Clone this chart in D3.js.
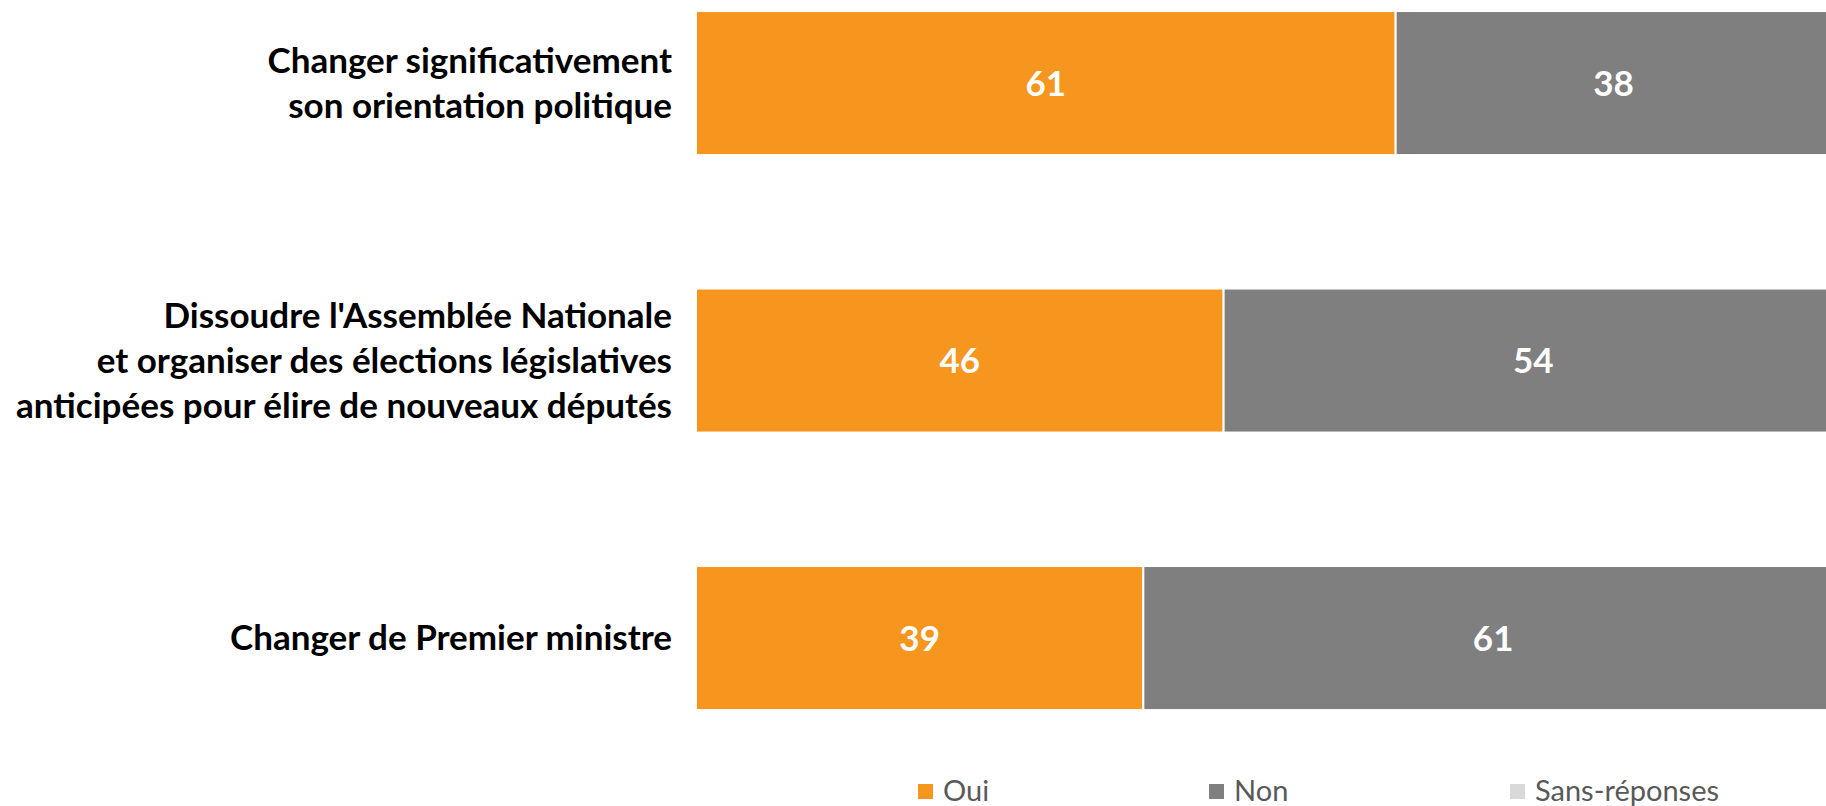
<!DOCTYPE html>
<html>
<head>
<meta charset="utf-8">
<script src="https://cdn.jsdelivr.net/npm/d3@7"></script>
<style>
  html, body { margin: 0; padding: 0; background: #fff; }
  svg { display: block; }
</style>
</head>
<body>
<svg id="chart"></svg>
<script>
// data
const categories = [
    "Changer significativement\nson orientation politique",
    "Dissoudre l'Assemblée Nationale\net organiser des élections législatives\nanticipées pour élire de nouveaux députés",
    "Changer de Premier ministre"
];
const oui = [61, 46, 39];
const non = [38, 54, 61];
const sansReponses = [1, 0, 0];
const seriesNames = ["Oui", "Non", "Sans-réponses"];
const seriesColors = ["#F7961F", "#7F7F7F", "#D9D9D9"];

const width = 1826;
const height = 806;

const svg = d3.select("#chart")
    .attr("width", width)
    .attr("height", height)
    .attr("viewBox", [0, 0, width, height]);

const rows = categories.map((c, i) => ({cat: c, Oui: oui[i], Non: non[i], "Sans-réponses": sansReponses[i]}));
const stacked = d3.stack().keys(seriesNames)(rows);

// the right end of the plot runs past the picture edge
const x = d3.scaleLinear().domain([0, 100]).range([696, 1843]);
const y = d3.scaleBand()
    .domain(categories)
    .range([-55.7, 776.8])
    .paddingInner(0.481)
    .paddingOuter(0.2405);

const color = d3.scaleOrdinal(seriesNames, seriesColors);

const layer = svg.append("g")
    .selectAll("g")
    .data(stacked)
    .join("g")
    .attr("fill", d => color(d.key));

layer.selectAll("rect")
    .data(d => d)
    .join("rect")
    .attr("x", d => x(d[0]))
    .attr("y", d => y(d.data.cat))
    .attr("width", d => x(d[1]) - x(d[0]))
    .attr("height", y.bandwidth())
    .attr("stroke", "#fff")
    .attr("stroke-width", 2);

// value labels (only for the two main series)
layer.filter(d => d.key !== "Sans-réponses")
    .selectAll("text")
    .data(d => d.filter(v => v[1] - v[0] > 0))
    .join("text")
    .attr("x", d => (x(d[0]) + x(d[1])) / 2)
    .attr("y", d => y(d.data.cat) + y.bandwidth() / 2)
    .attr("dy", "0.36em")
    .attr("text-anchor", "middle")
    .attr("fill", "#fff")
    .attr("font-family", "Lato, 'Open Sans', sans-serif")
    .attr("font-weight", "bold")
    .attr("font-size", 35)
    .text(d => d[1] - d[0]);

// category labels
const lineH = 45;
const labels = svg.append("g")
    .attr("font-family", "Lato, 'Open Sans', sans-serif")
    .attr("font-weight", "bold")
    .attr("font-size", 35)
    .attr("fill", "#000")
    .attr("text-anchor", "end")
    .selectAll("text")
    .data(categories)
    .join("text")
    .attr("transform", d => `translate(672,${y(d) + y.bandwidth() / 2})`);

labels.selectAll("tspan")
    .data(d => {
        const lines = d.split("\n");
        return lines.map((l, i) => ({l, i, n: lines.length}));
    })
    .join("tspan")
    .attr("x", 0)
    .attr("y", d => (d.i - (d.n - 1) / 2) * lineH + 12)
    .text(d => d.l);

// legend
const legendX = [918, 1209, 1510];
const legend = svg.append("g")
    .selectAll("g")
    .data(seriesNames)
    .join("g")
    .attr("transform", (d, i) => `translate(${legendX[i]},784)`);

legend.append("rect")
    .attr("width", 15)
    .attr("height", 15)
    .attr("fill", d => color(d));

legend.append("text")
    .attr("x", 25)
    .attr("y", 17)
    .attr("font-family", "Lato, 'Open Sans', sans-serif")
    .attr("font-size", 29)
    .attr("fill", "#595959")
    .text(d => d);
</script>
</body>
</html>
